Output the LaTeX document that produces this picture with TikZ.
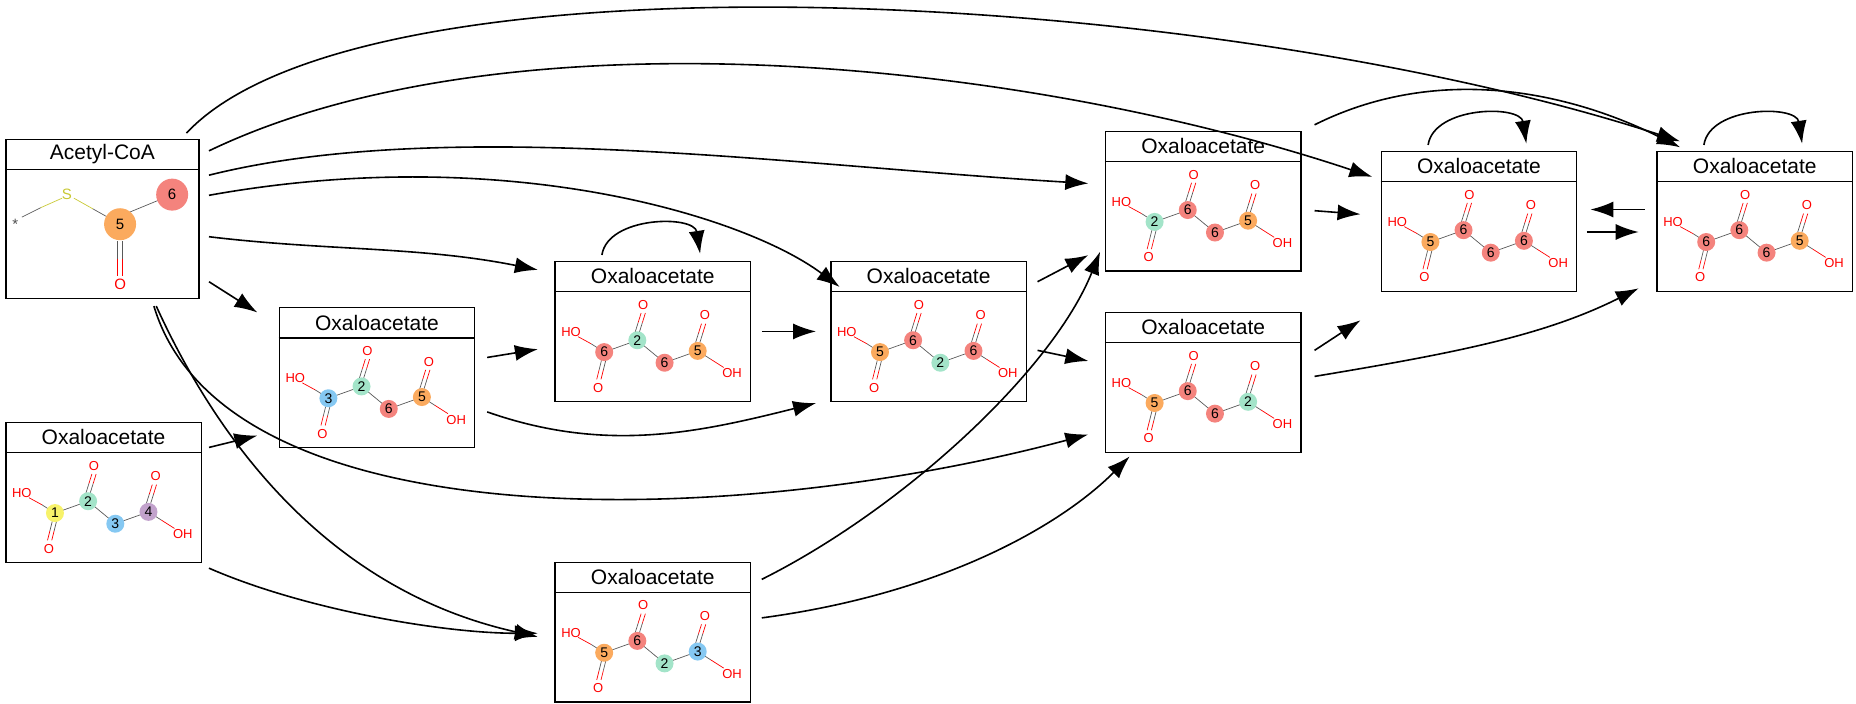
\documentclass[tikz,border=0pt]{standalone}
\usepackage{fontspec}
\setmainfont{Liberation Sans}
\usetikzlibrary{arrows.meta,calc}
\definecolor{atomred}{HTML}{F4837D}
\definecolor{atomorange}{HTML}{FBAA5E}
\definecolor{atomgreen}{HTML}{A3E4C9}
\definecolor{atomblue}{HTML}{85C8F2}
\definecolor{atomyel}{HTML}{F7F26A}
\definecolor{atompurp}{HTML}{C2A2CC}
\definecolor{sulfur}{HTML}{C8C832}
\tikzset{
  molbox/.style={draw, line width=1.3pt, minimum width=195.4pt, minimum height=139.7pt, inner sep=0pt},
  title/.style={font=\fontsize{21}{21}\selectfont},
  arr/.style={-{Latex[length=23pt,width=16pt]}, line width=1.6pt},
  bond/.style={line width=0.7pt, gray!70!black},
  atom/.style={circle, inner sep=0pt, minimum size=18pt, font=\fontsize{14}{14}\selectfont},
  olab/.style={text=red, inner sep=0pt, font=\fontsize{13}{13}\selectfont},
  pics/oxa/.style n args={8}{code={
    % carbon chain
    \draw[bond] (42,77) -- (70,67) -- (93,86) -- (121,76);
    \draw[bond,red] (20,64) -- (31,70);
    \draw[bond] (31,70) -- (42,77);
    \draw[bond] (121,76) -- (132,83);
    \draw[bond,red] (132,83) -- (143,90);
    % carbonyls
    \foreach \d in {-1.8,1.8} {
      \draw[bond] ($(70,60)+(\d,0)$) -- ($(72.5,52)+(\d,0)$);
      \draw[bond,red] ($(72.5,52)+(\d,0)$) -- ($(75,44)+(\d,0)$);
      \draw[bond] ($(121,69)+(\d,0)$) -- ($(123.5,61)+(\d,0)$);
      \draw[bond,red] ($(123.5,61)+(\d,0)$) -- ($(126,53)+(\d,0)$);
      \draw[bond] ($(41.5,84)+(\d,0)$) -- ($(39.5,92)+(\d,0)$);
      \draw[bond,red] ($(39.5,92)+(\d,0)$) -- ($(37.5,100)+(\d,0)$);
    }
    \node[atom,fill=#1] at (42,77) {#2};
    \node[atom,fill=#3] at (70,67) {#4};
    \node[atom,fill=#5] at (93,86) {#6};
    \node[atom,fill=#7] at (121,76) {#8};
    \node[olab] at (14,60) {HO};
    \node[olab] at (150,95) {OH};
    \node[olab] at (75,37) {O};
    \node[olab] at (127,46) {O};
    \node[olab] at (37,107) {O};
  }}
}
\begin{document}
\begin{tikzpicture}[x=1.184pt, y=-1.184pt]
    \useasboundingbox (0,0) rectangle (1568,594);

    % Boxes
    \node[molbox, minimum width=193pt, minimum height=158.7pt] (A) at (86.5,185) {};
    \node[molbox] (o0) at (87.5,416) {};
    \node[molbox] (o1) at (318.5,319) {};
    \node[molbox] (o2) at (551.5,280) {};
    \node[molbox] (o3) at (784.5,280) {};
    \node[molbox] (o4) at (1016.5,170) {};
    \node[molbox] (o5) at (1016.5,323) {};
    \node[molbox] (o6) at (1249.5,187) {};
    \node[molbox] (o7) at (1482.5,187) {};
    \node[molbox] (o8) at (551.5,534) {};

    % Headers
    \foreach \b/\t in {A/Acetyl-CoA, o0/Oxaloacetate, o1/Oxaloacetate, o2/Oxaloacetate,
                       o3/Oxaloacetate, o4/Oxaloacetate, o5/Oxaloacetate, o6/Oxaloacetate,
                       o7/Oxaloacetate, o8/Oxaloacetate} {
        \node[title] at ($(\b.north)+(0,13)$) {\t};
        \draw[line width=1.3pt] ($(\b.north west)+(0,26)$) -- ($(\b.north east)+(0,26)$);
    }

    % Acetyl-CoA
    \begin{scope}[shift={(A.north west)}]
        \draw[bond] (14,66) -- (30,58);
        \draw[bond,sulfur] (30,58) -- (48,50);
        \draw[bond,sulfur] (58,50) -- (74,59);
        \draw[bond] (74,59) -- (90,68) -- (141,47);
        \foreach \d in {-2,2} {
            \draw[bond] ($(97,86)+(\d,0)$) -- ($(97,101)+(\d,0)$);
            \draw[bond,red] ($(97,101)+(\d,0)$) -- ($(97,116)+(\d,0)$);
        }
        \node[text=gray!60!black, font=\fontsize{15}{15}\selectfont] at (8.5,72) {*};
        \node[text=sulfur, font=\fontsize{15}{15}\selectfont] at (52,47) {S};
        \node[circle, fill=atomorange, minimum size=32pt, inner sep=0pt, font=\fontsize{15}{15}\selectfont] at (97,72) {5};
        \node[circle, fill=atomred, minimum size=32pt, inner sep=0pt, font=\fontsize{15}{15}\selectfont] at (141,47) {6};
        \node[olab, font=\fontsize{15}{15}\selectfont] at (97,123) {O};
    \end{scope}

    % Oxaloacetates
    \pic at (o0.north west) {oxa={atomyel}{1}{atomgreen}{2}{atomblue}{3}{atompurp}{4}};
    \pic at (o1.north west) {oxa={atomblue}{3}{atomgreen}{2}{atomred}{6}{atomorange}{5}};
    \pic at (o2.north west) {oxa={atomred}{6}{atomgreen}{2}{atomred}{6}{atomorange}{5}};
    \pic at (o3.north west) {oxa={atomorange}{5}{atomred}{6}{atomgreen}{2}{atomred}{6}};
    \pic at (o4.north west) {oxa={atomgreen}{2}{atomred}{6}{atomred}{6}{atomorange}{5}};
    \pic at (o5.north west) {oxa={atomorange}{5}{atomred}{6}{atomred}{6}{atomgreen}{2}};
    \pic at (o6.north west) {oxa={atomorange}{5}{atomred}{6}{atomred}{6}{atomred}{6}};
    \pic at (o7.north west) {oxa={atomred}{6}{atomred}{6}{atomred}{6}{atomorange}{5}};
    \pic at (o8.north west) {oxa={atomorange}{5}{atomred}{6}{atomgreen}{2}{atomblue}{3}};

    % From Acetyl-CoA
    \draw[arr] ($(A.east)+(8,53)$) -- ($(o1.west)+(-18,-55)$);
    \draw[arr] ($(A.east)+(8,15)$) .. controls +(100,12) and +(-100,-20) .. ($(o2.west)+(-14,-52)$);
    \draw[arr] ($(A.east)+(8,-20)$) .. controls +(250,-45) and +(-80,-60) .. ($(o3.north west)+(8,22)$);
    \draw[arr] ($(A.east)+(8,-37)$) .. controls +(200,-50) and +(-250,-15) .. ($(o4.west)+(-14,-15)$);
    \draw[arr] ($(A.north east)+(8,10)$) .. controls +(250,-120) and +(-300,-100) .. ($(o6.north west)+(-7,22)$);
    \draw[arr] ($(A.north east)+(-11,-5)$) .. controls +(150,-160) and +(-400,-130) .. ($(o7.north west)+(20,-8)$);
    \draw[arr] ($(A.south)+(45.5,6)$) .. controls +(50,110) and +(-180,-40) .. ($(o8.west)+(-14,4)$);
    \draw[arr] ($(A.south)+(43.5,6)$) .. controls +(60,200) and +(-300,80) .. ($(o5.west)+(-14,44)$);

    % From left oxaloacetate
    \draw[arr] ($(o0.east)+(6,-38)$) -- ($(o1.west)+(-18,49)$);
    \draw[arr] ($(o0.east)+(6,64)$) .. controls +(80,35) and +(-80,0) .. ($(o8.west)+(-14,1)$);

    % Middle
    \draw[arr] ($(o1.east)+(10,-17)$) -- ($(o2.west)+(-14,15)$);
    \draw[arr] ($(o1.east)+(10,29)$) .. controls +(100,35) and +(-100,25) .. ($(o3.south west)+(-12,1)$);
    \draw[arr] ($(o2.east)+(9,0)$) -- ($(o3.west)+(-12,0)$);
    \draw[arr] ($(o3.east)+(9,-42)$) -- ($(o4.south west)+(-14,-14)$);
    \draw[arr] ($(o3.east)+(9,16)$) -- ($(o5.west)+(-14,-18)$);
    \draw[arr] ($(o8.north east)+(9,15)$) .. controls +(120,-60) and +(-40,100) .. ($(o4.south west)+(-4,-17)$);
    \draw[arr] ($(o8.east)+(9,-12)$) .. controls +(150,-20) and +(-60,60) .. ($(o5.south west)+(21,3)$);

    % Right
    \draw[arr] ($(o4.east)+(11,8)$) -- ($(o6.west)+(-17,-6)$);
    \draw[arr] ($(o4.north east)+(11,-5)$) .. controls +(100,-50) and +(-100,-50) .. ($(o7.north west)+(20,-3)$);
    \draw[arr] ($(o5.east)+(11,-27)$) -- ($(o6.south west)+(-17,24)$);
    \draw[arr] ($(o5.east)+(11,-5)$) .. controls +(120,-20) and +(-80,40) .. ($(o7.south west)+(-15,-3)$);
    \draw[arr] ($(o6.east)+(8,9)$) -- ($(o7.west)+(-15,9)$);
    \draw[arr] ($(o7.west)+(-10,-10)$) -- ($(o6.east)+(11,-10)$);

    % Self loops
    \foreach \b in {o2, o6, o7} {
        \draw[arr] ($(\b.north)+(-43,-5)$) .. controls +(5,-33) and +(-5,-33) .. ($(\b.north)+(40,-6)$);
    }
\end{tikzpicture}
\end{document}
